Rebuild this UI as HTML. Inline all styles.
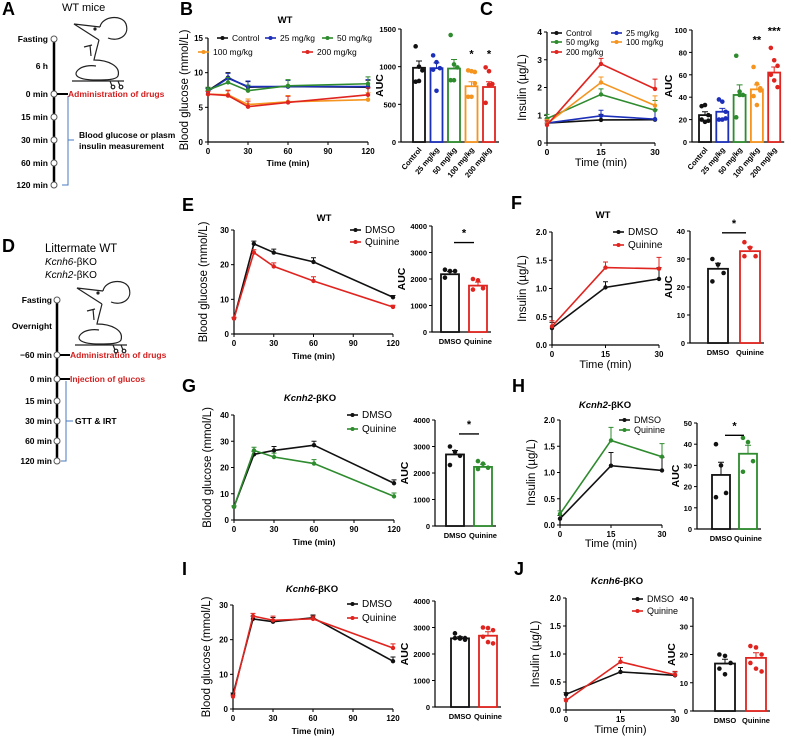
<!DOCTYPE html>
<html><head><meta charset="utf-8"><title>Quinine figure</title>
<style>
html,body{margin:0;padding:0;background:#fff;}
svg{display:block;font-family:"Liberation Sans",Arial,sans-serif;}
.tl{font-size:8.5px;font-weight:bold;}
</style></head>
<body>
<svg id="fig" width="786" height="738" viewBox="0 0 786 738" xmlns="http://www.w3.org/2000/svg">
<rect width="786" height="738" fill="#fff"/>
<!-- Panel A -->
<g>
<text x="2" y="15" font-size="18" font-weight="bold">A</text>
<text x="62" y="11" font-size="11">WT mice</text>
<line x1="54" y1="39" x2="54" y2="185" stroke="#000" stroke-width="2.5"/>
<g fill="#fff" stroke="#555" stroke-width="1">
<circle cx="54" cy="39" r="3"/>
<circle cx="54" cy="94" r="3"/>
<circle cx="54" cy="117" r="3"/>
<circle cx="54" cy="140" r="3"/>
<circle cx="54" cy="163" r="3"/>
<circle cx="54" cy="185" r="3"/>
</g>
<g class="tl" text-anchor="end">
<text x="48" y="42">Fasting</text>
<text x="48" y="69">6 h</text>
<text x="48" y="97">0 min</text>
<text x="48" y="120">15 min</text>
<text x="48" y="143">30 min</text>
<text x="48" y="166">60 min</text>
<text x="48" y="188">120 min</text>
</g>
<line x1="57" y1="94" x2="68" y2="94" stroke="#000" stroke-width="2"/>
<text x="68" y="97" class="tl" fill="#d42020" font-size="9">Administration of drugs</text>
<path d="M68,96 L68,185 L62,185 M68,140 L74,140" fill="none" stroke="#4a78c0" stroke-width="1"/>
<text x="79" y="138" class="tl">Blood glucose or plasm</text>
<text x="79" y="149" class="tl">insulin measurement</text>
<g id="mouse" fill="none" stroke="#222" stroke-width="1.2">
<path d="M100,27 L74,24 L99,40"/>
<path d="M100,27 C102,16 122,14 126,24 C130,36 118,42 108,38"/>
<circle cx="95" cy="29" r="1" fill="#222"/>
<path d="M99,40 C97,48 95,55 94,60 C108,60 121,66 118,76 C116,80 106,80 96,80 C80,80 72,76 78,70 C82,66 90,65 96,66"/>
<path d="M84,47 L92,45 M90,45 L91,56"/>
<path d="M72,81 L124,81 M110,81 L112,86 M118,81 L120,86"/>
<circle cx="113" cy="87" r="1.8"/><circle cx="121" cy="87" r="1.8"/>
</g>
</g>
<!-- Panel D -->
<g>
<text x="2" y="252" font-size="18" font-weight="bold">D</text>
<text x="45" y="252" font-size="11.5">Littermate WT</text>
<text x="45" y="265" font-size="10"><tspan font-style="italic">Kcnh6</tspan>-βKO</text>
<text x="45" y="278" font-size="10"><tspan font-style="italic">Kcnh2</tspan>-βKO</text>
<line x1="57" y1="300" x2="57" y2="461" stroke="#000" stroke-width="2.5"/>
<g fill="#fff" stroke="#555" stroke-width="1">
<circle cx="57" cy="300" r="3"/>
<circle cx="57" cy="355" r="3"/>
<circle cx="57" cy="379" r="3"/>
<circle cx="57" cy="401" r="3"/>
<circle cx="57" cy="421" r="3"/>
<circle cx="57" cy="441" r="3"/>
<circle cx="57" cy="461" r="3"/>
</g>
<g class="tl" text-anchor="end">
<text x="52" y="303">Fasting</text>
<text x="52" y="329">Overnight</text>
<text x="52" y="358">−60 min</text>
<text x="52" y="382">0 min</text>
<text x="52" y="404">15 min</text>
<text x="52" y="424">30 min</text>
<text x="52" y="444">60 min</text>
<text x="52" y="464">120 min</text>
</g>
<line x1="60" y1="355" x2="70" y2="355" stroke="#000" stroke-width="2"/>
<line x1="60" y1="379" x2="70" y2="379" stroke="#000" stroke-width="2"/>
<text x="70" y="358" class="tl" fill="#d42020" font-size="9">Administration of drugs</text>
<text x="70" y="382" class="tl" fill="#d42020" font-size="9">Injection of glucos</text>
<path d="M66,381 L66,461 L61,461 M66,421 L73,421" fill="none" stroke="#4a78c0" stroke-width="1"/>
<text x="75" y="424" class="tl">GTT &amp; IRT</text>
<use href="#mouse" transform="translate(3,264)"/>
</g>
<g font-size="18" font-weight="bold">
<text x="180" y="15">B</text>
<text x="480" y="15">C</text>
<text x="182" y="211">E</text>
<text x="511" y="209">F</text>
<text x="182" y="392">G</text>
<text x="512" y="392">H</text>
<text x="182" y="575">I</text>
<text x="514" y="575">J</text>
</g>
</svg>
<script>
// ---------- DATA ----------
const gttTimes=[0,15,30,60,120];
const insTimes=[0,15,30];
const gttXTicks=[0,30,60,90,120];
const insXTicks=[0,15,30];
// B
const bControl=[7.4,9.3,7.9,8.0,7.9];
const b25=[7.3,9.2,8.0,8.0,8.0];
const b50=[7.5,8.6,7.4,8.1,8.4];
const b100=[6.9,6.8,5.4,5.8,6.1];
const b200=[6.9,6.7,5.1,5.7,6.8];
const bErr=[0.4,0.7,0.8,0.9,1.0];
const bYTicks=[0,5,10,15];
const doseCats=['Control','25 mg/kg','50 mg/kg','100 mg/kg','200 mg/kg'];
const bAucVals=[985,980,975,740,730];
const bAucErr=[90,70,120,60,70];
const bAucDots=[[1270,1000,950,800,810],[1150,1060,980,960,680],[1420,1030,990,820,820],[950,940,930,600,600,780],[990,940,770,520,760]];
const bAucTicks=[0,500,1000,1500];
// C
const cControl=[0.72,0.83,0.84];
const c25=[0.72,0.98,0.86];
const c50=[0.88,1.75,1.18];
const c100=[0.70,2.18,1.35];
const c200=[0.65,2.85,1.95];
const cErr=[0.15,0.2,0.35];
const cYTicks=[0,1,2,3,4];
const cAucVals=[24,27,42,47,62];
const cAucErr=[3,3,9,4,5];
const cAucDots=[[32,33,24,20,18,19],[38,36,27,20,20,21],[77,45,42,22,42],[67,52,48,41,33,46],[84,73,68,60,55,49]];
const cAucTicks=[0,20,40,60,80,100];
// E
const eDmso=[4.5,26,23.5,20.8,10.6];
const eQuin=[4.5,23.5,19.5,15.3,7.8];
const eErr=[0.3,0.8,1.0,1.2,0.5];
const glu30Ticks=[0,10,20,30];
const glu40Ticks=[0,10,20,30,40];
const twoCats=['DMSO','Quinine'];
const eAucVals=[2180,1750];
const eAucErr=[100,130];
const eAucDots=[[2350,2300,2300,2050],[2000,1950,1650,1600]];
const auc4000Ticks=[0,1000,2000,3000,4000];
// F
const fDmso=[0.30,1.02,1.17];
const fQuin=[0.33,1.37,1.35];
const fErr=[0.1,0.1,0.2];
const ins2Ticks=[0,0.5,1.0,1.5,2.0];
const fAucVals=[26.5,32.8];
const fAucErr=[2,1.5];
const fAucDots=[[30,28,25,22],[36,34,31,31]];
const auc40Ticks=[0,10,20,30,40];
// G
const gDmso=[5,25,26.5,28.5,14];
const gQuin=[5,26.5,24,21.5,9];
const gErr=[0.4,1.2,1.5,1.5,1.3];
const gAucVals=[2700,2230];
const gAucErr=[150,100];
const gAucDots=[[3000,2800,2650,2300],[2450,2350,2200,2150]];
// H
const hDmso=[0.12,1.13,1.04];
const hQuin=[0.21,1.61,1.30];
const hErr=[0.06,0.25,0.25];
const hAucVals=[25.5,35.5];
const hAucErr=[6,4];
const hAucDots=[[40,30,17,15],[43,41,32,27]];
const auc50Ticks=[0,10,20,30,40,50];
// I
const iDmso=[4.2,26,25.2,26.3,13.8];
const iQuin=[3.6,26.8,25.6,26,17.6];
const iErr=[0.4,0.8,1.2,0.8,1.2];
const iAucVals=[2590,2690];
const iAucErr=[60,150];
const iAucDots=[[2780,2620,2600,2600,2580,2540],[3000,2980,2900,2650,2450,2400]];
// J
const jDmso=[0.28,0.68,0.62];
const jQuin=[0.17,0.86,0.63];
const jErr=[0.03,0.08,0.06];
const jAucVals=[16.8,18.8];
const jAucErr=[1.5,1.8];
const jAucDots=[[20,19.5,17,15,13],[23,22.5,20,17,15,14]];

// ---------- HELPERS ----------
const NS='http://www.w3.org/2000/svg';
const svg=document.getElementById('fig');
function mk(tag,attrs,parent){const e=document.createElementNS(NS,tag);for(const k in attrs)e.setAttribute(k,attrs[k]);(parent||svg).appendChild(e);return e;}
function fmt(v,dec){return dec?v.toFixed(dec):String(v);}

function lineChart(id,c){
  const g=mk('g',{});
  
  
  const sx=v=>c.x0+v/c.xmax*(c.x1-c.x0);
  const sy=v=>c.y0-v/c.ymax*(c.y0-c.y1);
  const ax=mk('path',{d:`M${c.x0},${c.y1} L${c.x0},${c.y0} L${c.x1},${c.y0}`,fill:'none',stroke:'#000','stroke-width':1.2},g);
  
  
  c.yticks.forEach(v=>{
    const t=mk('line',{x1:c.x0-3,x2:c.x0,y1:sy(v),y2:sy(v),stroke:'#000','stroke-width':1},g);
    
    
    const l=mk('text',{x:c.x0-5,y:sy(v)+3,'text-anchor':'end','font-size':c.tfs||8,'font-weight':'bold'},g);
    
    
    l.textContent=fmt(v,c.ydec);
  });
  c.xticks.forEach(v=>{
    const t=mk('line',{x1:sx(v),x2:sx(v),y1:c.y0,y2:c.y0+3,stroke:'#000','stroke-width':1},g);
    
    
    const l=mk('text',{x:sx(v),y:c.y0+12,'text-anchor':'middle','font-size':c.tfs||8,'font-weight':'bold'},g);
    
    
    l.textContent=String(v);
  });
  const yl=mk('text',{transform:`translate(${c.ylx},${(c.y0+c.y1)/2}) rotate(-90)`,'text-anchor':'middle','font-size':c.ylfs||11.5},g);
  
  
  yl.textContent=c.ylab;
  const xl=mk('text',{x:(c.x0+c.x1)/2,y:c.xly,'text-anchor':'middle','font-size':c.xlBold?8.5:11,'font-weight':c.xlBold?'bold':'normal'},g);
  
  
  xl.textContent='Time (min)';
  if(c.title){
    const tt=mk('text',{x:c.tx,y:c.ty,'text-anchor':'middle','font-size':9.5,'font-weight':'bold'},g);
    
    
    tt.innerHTML=c.title;
  }
  c.series.forEach(s=>{
    const sg=mk('g',{},g);
    
    
    s.vals.forEach((v,i)=>{
      const top=sy(v+s.errs[i]);
      const e=mk('path',{d:`M${sx(c.xs[i])},${sy(v)} L${sx(c.xs[i])},${top} M${sx(c.xs[i])-2.5},${top} L${sx(c.xs[i])+2.5},${top}`,stroke:s.color,'stroke-width':1,fill:'none'},sg);
      
      
    });
    const pts=s.vals.map((v,i)=>sx(c.xs[i])+','+sy(v)).join(' ');
    const pl=mk('polyline',{points:pts,fill:'none',stroke:s.color,'stroke-width':1.6},sg);
    
    
    s.vals.forEach((v,i)=>{
      const p=mk('circle',{cx:sx(c.xs[i]),cy:sy(v),r:2.2,fill:s.color},sg);
      
      
    });
  });
  (c.legend||[]).forEach(L=>{
    const lg=mk('g',{},g);
    
    
    mk('line',{x1:L.x,x2:L.x+11,y1:L.y,y2:L.y,stroke:L.color,'stroke-width':1.6},lg);
    mk('circle',{cx:L.x+5.5,cy:L.y,r:2,fill:L.color},lg);
    const t=mk('text',{x:L.x+15,y:L.y+3.2,'font-size':c.lfs||9.5},lg);
    t.textContent=L.label;
  });
}

function barChart(id,c){
  const g=mk('g',{});
  
  
  const sy=v=>c.y0-v/c.ymax*(c.y0-c.y1);
  const n=c.vals.length;
  const cx=i=>c.first+i*c.step;
  const right=cx(n-1)+c.bw/2+4;
  const ax=mk('path',{d:`M${c.ax},${c.y1} L${c.ax},${c.y0} L${right},${c.y0}`,fill:'none',stroke:'#000','stroke-width':1.2},g);
  
  
  c.yticks.forEach(v=>{
    const t=mk('line',{x1:c.ax-3,x2:c.ax,y1:sy(v),y2:sy(v),stroke:'#000','stroke-width':1},g);
    
    
    const l=mk('text',{x:c.ax-5,y:sy(v)+3,'text-anchor':'end','font-size':7.5,'font-weight':'bold'},g);
    
    
    l.textContent=String(v);
  });
  const yl=mk('text',{transform:`translate(${c.ylx},${(c.y0+c.y1)/2}) rotate(-90)`,'text-anchor':'middle','font-size':10.5,'font-weight':'bold'},g);
  
  
  yl.textContent='AUC';
  c.vals.forEach((v,i)=>{
    const col=c.colors[i];
    const b=mk('rect',{x:cx(i)-c.bw/2,y:sy(v),width:c.bw,height:c.y0-sy(v),fill:'#fff',stroke:col,'stroke-width':1.8},g);
    
    
    const top=sy(v+c.errs[i]);
    const e=mk('path',{d:`M${cx(i)},${sy(v)} L${cx(i)},${top} M${cx(i)-3},${top} L${cx(i)+3},${top}`,stroke:col,'stroke-width':1,fill:'none'},g);
    
    
    c.dots[i].forEach((d,k)=>{
      const off=((k%3)-1)*c.bw*0.28;
      const p=mk('circle',{cx:cx(i)+off,cy:sy(d),r:2.3,fill:col},g);
      
      
    });
    const lab=mk('text',{'font-size':7.5,'font-weight':'bold'},g);
    
    
    if(c.rotate){
      lab.setAttribute('text-anchor','end');
      lab.setAttribute('transform',`translate(${cx(i)+3},${c.y0+8}) rotate(-50)`);
    }else{
      lab.setAttribute('text-anchor','middle');
      lab.setAttribute('x',cx(i));
      lab.setAttribute('y',c.y0+12);
    }
    lab.textContent=c.cats[i];
  });
  (c.stars||[]).forEach(s=>{
    const t=mk('text',{x:s.i===undefined?(cx(0)+cx(1))/2:cx(s.i),y:sy(s.v),'text-anchor':'middle','font-size':11,'font-weight':'bold'},g);
    
    
    t.textContent=s.t;
    if(s.i===undefined){
      const ln=mk('line',{x1:cx(0)+4,x2:cx(1)-4,y1:sy(s.v)+6,y2:sy(s.v)+6,stroke:'#000','stroke-width':1.4},g);
      
      
    }
  });
}

const K='#111', BL='#1c2fb8', GR='#2e8b2e', OR='#f5941e', RD='#e0241f';

// ---------- B ----------
lineChart('panel-b-glucose-line',{x0:208,x1:368,xmax:120,y0:142,y1:38,ymax:15,xs:gttTimes,xticks:gttXTicks,yticks:bYTicks,
 ylab:'Blood glucose (mmol/L)',ylx:188,xly:166,xlBold:true,title:'WT',tx:285,ty:23,lfs:8.5,
 series:[{name:'control',color:K,vals:bControl,errs:bErr},{name:'25mgkg',color:BL,vals:b25,errs:bErr},{name:'50mgkg',color:GR,vals:b50,errs:bErr},{name:'100mgkg',color:OR,vals:b100,errs:bErr},{name:'200mgkg',color:RD,vals:b200,errs:bErr}],
 legend:[{x:217,y:38,label:'Control',color:K},{x:265,y:38,label:'25 mg/kg',color:BL},{x:322,y:38,label:'50 mg/kg',color:GR},{x:198,y:52,label:'100 mg/kg',color:OR},{x:302,y:52,label:'200 mg/kg',color:RD}]});
barChart('panel-b-auc-bars',{ax:401,y0:142,y1:29,ymax:1500,yticks:bAucTicks,ylx:383,first:419,step:17.5,bw:12,cats:doseCats,vals:bAucVals,errs:bAucErr,dots:bAucDots,colors:[K,BL,GR,OR,RD],rotate:true,
 stars:[{i:3,v:1120,t:'*'},{i:4,v:1120,t:'*'}]});
// ---------- C ----------
lineChart('panel-c-insulin-line',{x0:547,x1:655,xmax:30,y0:143,y1:32,ymax:4,xs:insTimes,xticks:insXTicks,yticks:cYTicks,tfs:8.5,
 ylab:'Insulin (µg/L)',ylx:526,xly:166,xlBold:false,lfs:8,
 series:[{name:'control',color:K,vals:cControl,errs:cErr},{name:'25mgkg',color:BL,vals:c25,errs:cErr},{name:'50mgkg',color:GR,vals:c50,errs:cErr},{name:'100mgkg',color:OR,vals:c100,errs:cErr},{name:'200mgkg',color:RD,vals:c200,errs:cErr}],
 legend:[{x:551,y:33,label:'Control',color:K},{x:611,y:33,label:'25 mg/kg',color:BL},{x:551,y:42,label:'50 mg/kg',color:GR},{x:611,y:42,label:'100 mg/kg',color:OR},{x:551,y:52,label:'200 mg/kg',color:RD}]});
barChart('panel-c-auc-bars',{ax:692,y0:142,y1:30,ymax:100,yticks:cAucTicks,ylx:672,first:705,step:17.3,bw:12,cats:doseCats,vals:cAucVals,errs:cAucErr,dots:cAucDots,colors:[K,BL,GR,OR,RD],rotate:true,
 stars:[{i:3,v:88,t:'**'},{i:4,v:96,t:'***'}]});
// ---------- E ----------
lineChart('panel-e-glucose-line',{x0:234,x1:393,xmax:120,y0:334,y1:230,ymax:30,xs:gttTimes,xticks:gttXTicks,yticks:glu30Ticks,
 ylab:'Blood glucose (mmol/L)',ylx:207,xly:359,xlBold:true,title:'WT',tx:324,ty:221,lfs:10,
 series:[{name:'dmso',color:K,vals:eDmso,errs:eErr},{name:'quinine',color:RD,vals:eQuin,errs:eErr}],
 legend:[{x:350,y:230,label:'DMSO',color:K},{x:350,y:242,label:'Quinine',color:RD}]});
barChart('panel-e-auc-bars',{ax:432,y0:332,y1:226,ymax:4000,yticks:auc4000Ticks,ylx:405,first:450,step:28,bw:18,cats:twoCats,vals:eAucVals,errs:eAucErr,dots:eAucDots,colors:[K,RD],
 stars:[{v:3600,t:'*'}]});
// ---------- F ----------
lineChart('panel-f-insulin-line',{x0:552,x1:659,xmax:30,y0:345,y1:232,ymax:2,ydec:1,xs:insTimes,xticks:insXTicks,yticks:ins2Ticks,tfs:8,
 ylab:'Insulin (µg/L)',ylx:526,xly:368,xlBold:false,title:'WT',tx:603,ty:218,lfs:10,
 series:[{name:'dmso',color:K,vals:fDmso,errs:fErr},{name:'quinine',color:RD,vals:fQuin,errs:fErr}],
 legend:[{x:613,y:232,label:'DMSO',color:K},{x:613,y:245,label:'Quinine',color:RD}]});
barChart('panel-f-auc-bars',{ax:690,y0:343,y1:231,ymax:40,yticks:auc40Ticks,ylx:672,first:718,step:32,bw:20,cats:twoCats,vals:fAucVals,errs:fAucErr,dots:fAucDots,colors:[K,RD],
 stars:[{v:41.5,t:'*'}]});
// ---------- G ----------
lineChart('panel-g-glucose-line',{x0:234,x1:394,xmax:120,y0:520,y1:415,ymax:40,xs:gttTimes,xticks:gttXTicks,yticks:glu40Ticks,
 ylab:'Blood glucose (mmol/L)',ylx:211,xly:545,xlBold:true,title:'<tspan font-style="italic">Kcnh2</tspan>-βKO',tx:310,ty:401,lfs:10,
 series:[{name:'dmso',color:K,vals:gDmso,errs:gErr},{name:'quinine',color:GR,vals:gQuin,errs:gErr}],
 legend:[{x:347,y:415,label:'DMSO',color:K},{x:347,y:429,label:'Quinine',color:GR}]});
barChart('panel-g-auc-bars',{ax:435,y0:526,y1:420,ymax:4000,yticks:auc4000Ticks,ylx:408,first:455,step:28,bw:18,cats:twoCats,vals:gAucVals,errs:gAucErr,dots:gAucDots,colors:[K,GR],
 stars:[{v:3700,t:'*'}]});
// ---------- H ----------
lineChart('panel-h-insulin-line',{x0:560,x1:662,xmax:30,y0:525,y1:420,ymax:2,ydec:1,xs:insTimes,xticks:insXTicks,yticks:ins2Ticks,tfs:8,
 ylab:'Insulin (µg/L)',ylx:535,xly:547,xlBold:false,title:'<tspan font-style="italic">Kcnh2</tspan>-βKO',tx:605,ty:408,lfs:9,
 series:[{name:'dmso',color:K,vals:hDmso,errs:hErr},{name:'quinine',color:GR,vals:hQuin,errs:hErr}],
 legend:[{x:619,y:420,label:'DMSO',color:K},{x:619,y:430,label:'Quinine',color:GR}]});
barChart('panel-h-auc-bars',{ax:697,y0:529,y1:423,ymax:50,yticks:auc50Ticks,ylx:679,first:721,step:27,bw:18,cats:twoCats,vals:hAucVals,errs:hAucErr,dots:hAucDots,colors:[K,GR],
 stars:[{v:47,t:'*'}]});
// ---------- I ----------
lineChart('panel-i-glucose-line',{x0:233,x1:393,xmax:120,y0:709,y1:605,ymax:30,xs:gttTimes,xticks:gttXTicks,yticks:glu30Ticks,
 ylab:'Blood glucose (mmol/L)',ylx:210,xly:734,xlBold:true,title:'<tspan font-style="italic">Kcnh6</tspan>-βKO',tx:312,ty:592,lfs:10,
 series:[{name:'dmso',color:K,vals:iDmso,errs:iErr},{name:'quinine',color:RD,vals:iQuin,errs:iErr}],
 legend:[{x:347,y:604,label:'DMSO',color:K},{x:347,y:618,label:'Quinine',color:RD}]});
barChart('panel-i-auc-bars',{ax:435,y0:707,y1:601,ymax:4000,yticks:auc4000Ticks,ylx:408,first:460,step:28,bw:18,cats:twoCats,vals:iAucVals,errs:iAucErr,dots:iAucDots,colors:[K,RD]});
// ---------- J ----------
lineChart('panel-j-insulin-line',{x0:566,x1:675,xmax:30,y0:710,y1:598,ymax:2,ydec:1,xs:insTimes,xticks:insXTicks,yticks:ins2Ticks,tfs:8,
 ylab:'Insulin (µg/L)',ylx:539,xly:733,xlBold:false,title:'<tspan font-style="italic">Kcnh6</tspan>-βKO',tx:617,ty:584,lfs:9,
 series:[{name:'dmso',color:K,vals:jDmso,errs:jErr},{name:'quinine',color:RD,vals:jQuin,errs:jErr}],
 legend:[{x:632,y:599,label:'DMSO',color:K},{x:632,y:611,label:'Quinine',color:RD}]});
barChart('panel-j-auc-bars',{ax:693,y0:711,y1:598,ymax:40,yticks:auc40Ticks,ylx:675,first:725,step:31,bw:20,cats:twoCats,vals:jAucVals,errs:jAucErr,dots:jAucDots,colors:[K,RD]});
</script>
</body></html>
